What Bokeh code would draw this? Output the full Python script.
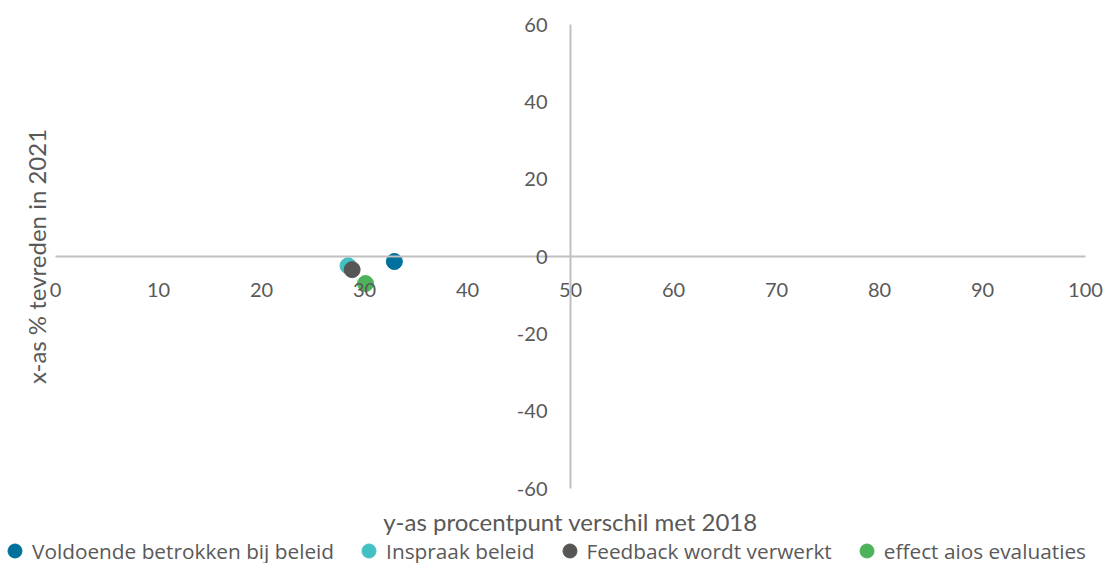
import math
from bokeh.plotting import figure
from bokeh.models import (Legend, LegendItem, FixedTicker, Label,
                          ColumnDataSource, PrintfTickFormatter)
from bokeh.embed import file_html
from bokeh.resources import INLINE

series_names = ["Voldoende betrokken bij beleid", "Inspraak beleid",
                "Feedback wordt verwerkt", "effect aios evaluaties"]
x_values = [32.9, 28.4, 28.8, 30.1]
y_values = [-1.3, -2.4, -3.4, -7.0]
colors = ["#00709c", "#43c0c3", "#575655", "#4db35b"]

x_ticks = [0, 10, 20, 30, 40, 50, 60, 70, 80, 90, 100]
y_ticks = [-60, -40, -20, 0, 20, 40, 60]

x_title = "y-as procentpunt verschil met 2018"
y_title = "x-as % tevreden in 2021"

FONT = "Lato"
TXT = "#595959"

# canvas geometry (px); the frame fills the whole canvas
W, H = 1110, 563
X0PX, X100PX = 55, 1085     # where x=0 and x=100 fall
YTPX, YBPX = 24, 488        # where y=60 and y=-60 fall
xs = (X100PX - X0PX) / (x_ticks[-1] - x_ticks[0])
ys = (YBPX - YTPX) / (y_ticks[-1] - y_ticks[0])
x_range = (x_ticks[0] - X0PX / xs, x_ticks[-1] + (W - X100PX) / xs)
y_range = (y_ticks[0] - (H - YBPX) / ys, y_ticks[-1] + YTPX / ys)

p = figure(width=W, height=H, x_range=x_range, y_range=y_range,
           output_backend="svg", toolbar_location=None,
           min_border_left=0, min_border_right=0, min_border_top=0,
           min_border_bottom=0)
p.grid.visible = False
p.outline_line_color = None
p.background_fill_color = "white"

p.xaxis.fixed_location = 0
p.yaxis.fixed_location = 50
p.xaxis.bounds = (x_ticks[0], x_ticks[-1])
p.yaxis.bounds = (y_ticks[0], y_ticks[-1])
p.xaxis.ticker = FixedTicker(ticks=x_ticks)
p.yaxis.ticker = FixedTicker(ticks=y_ticks)
for ax in (p.xaxis, p.yaxis):
    ax.formatter = PrintfTickFormatter(format="%d")
    ax.axis_line_color = "#c0c0c0"
    ax.axis_line_width = 2
    ax.major_tick_line_color = None
    ax.minor_tick_line_color = None
    ax.major_tick_in = 0
    ax.major_tick_out = 0
    ax.major_label_text_font = FONT
    ax.major_label_text_font_size = "20px"
    ax.major_label_text_color = TXT
p.xaxis.major_label_standoff = 26
p.yaxis.major_label_standoff = 23

# axis titles
p.add_layout(Label(x=50, y=y_ticks[0] - (521 - YBPX) / ys, text=x_title,
                   text_align="center", text_baseline="middle",
                   text_font=FONT, text_font_size="24px", text_color=TXT))
p.add_layout(Label(x=x_ticks[0] - (X0PX - 36) / xs, y=(y_ticks[0] + y_ticks[-1]) / 2,
                   text=y_title, angle=math.pi / 2,
                   text_align="center", text_baseline="middle",
                   text_font=FONT, text_font_size="24px", text_color=TXT))

renderers = []
for i in range(len(series_names)):
    src = ColumnDataSource(dict(x=[x_values[i]], y=[y_values[i]]))
    r = p.scatter("x", "y", source=src, size=16, marker="circle",
                  fill_color=colors[i], line_color=colors[i])
    renderers.append(r)

legend = Legend(items=[LegendItem(label=series_names[i], renderers=[renderers[i]])
                       for i in range(len(series_names))],
                orientation="horizontal", location=(-3, -5),
                label_text_font="Open Sans", label_text_font_size="20.8px",
                label_text_color=TXT, glyph_width=35, glyph_height=35,
                label_standoff=0, spacing=17, padding=0, margin=0,
                border_line_color=None, background_fill_alpha=0)
p.add_layout(legend)

open("out.html", "w").write(file_html(p, INLINE))
